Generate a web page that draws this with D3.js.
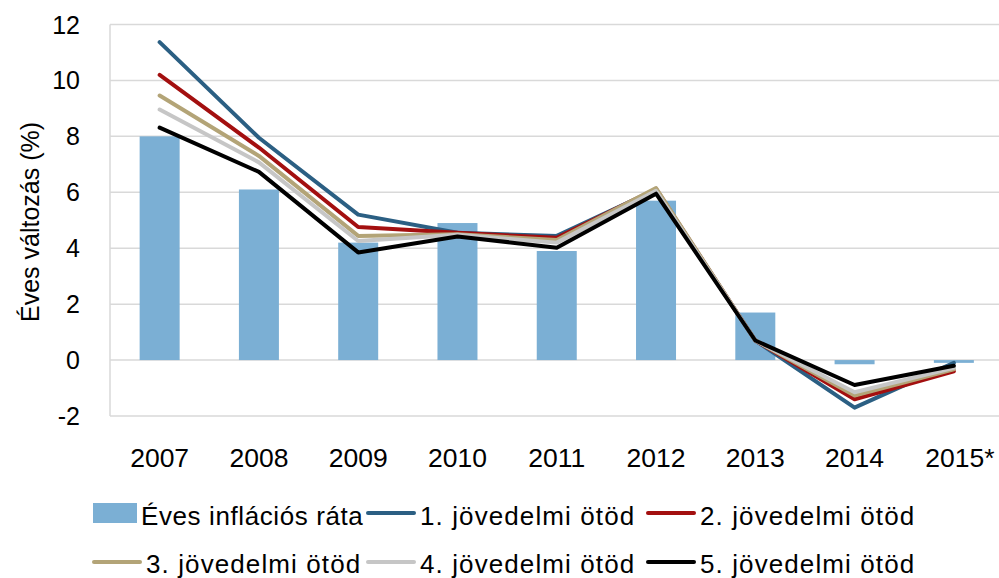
<!DOCTYPE html>
<html><head><meta charset="utf-8">
<script src="https://cdn.jsdelivr.net/npm/d3@7"></script>
<style>body{margin:0;background:#fff}svg{display:block}text{font-family:"Liberation Sans",Arial,sans-serif;fill:#000}</style>
</head><body><svg id="c" width="999" height="578"></svg>
<script>
const years = ["2007","2008","2009","2010","2011","2012","2013","2014","2015*"];
const yTicks = [-2,0,2,4,6,8,10,12];
const inflation = [8.0,6.1,4.2,4.9,3.9,5.7,1.7,-0.15,-0.1];
const q1 = [11.37,7.95,5.2,4.55,4.44,6.1,0.7,-1.7,-0.1];
const q2 = [10.2,7.6,4.76,4.55,4.37,6.12,0.7,-1.4,-0.4];
const q3 = [9.46,7.3,4.44,4.5,4.29,6.15,0.7,-1.27,-0.33];
const q4 = [8.96,7.07,4.26,4.48,4.2,6.05,0.7,-1.15,-0.28];
const q5 = [8.31,6.73,3.85,4.42,4.02,5.95,0.7,-0.89,-0.2];
const seriesNames = ["Éves inflációs ráta","1. jövedelmi ötöd","2. jövedelmi ötöd","3. jövedelmi ötöd","4. jövedelmi ötöd","5. jövedelmi ötöd"];
const lineSeries = [q1,q2,q3,q4,q5];
const colors = ["#7BAFD4","#2B5F83","#A30F0F","#B3A477","#C6C6C6","#000000"];
const yTitle = "Éves változás (%)";

const svg = d3.select("#c");
const x = d3.scaleBand().domain(years).range([110,1003.5]);
const y = d3.scaleLinear().domain([-2,12]).range([416,24.5]);

// gridlines
svg.append("g").selectAll("line").data(yTicks).join("line")
  .attr("x1",110).attr("x2",999).attr("y1",d=>y(d)).attr("y2",d=>y(d))
  .attr("stroke","#D9D9D9").attr("stroke-width",1.5);
svg.append("line").attr("x1",110).attr("x2",110).attr("y1",y(12)).attr("y2",y(-2))
  .attr("stroke","#D9D9D9").attr("stroke-width",1.5);

// y axis labels
svg.append("g").selectAll("text").data(yTicks).join("text")
  .attr("x",80).attr("y",d=>y(d)).attr("dy","0.36em").attr("text-anchor","end")
  .attr("font-size",25).text(d=>d);
// x axis labels
svg.append("g").selectAll("text").data(years).join("text")
  .attr("x",d=>x(d)+x.bandwidth()/2 + (d.endsWith("*")?6:0)).attr("y",467).attr("text-anchor","middle")
  .attr("font-size",26.5).text(d=>d);
// y title
svg.append("text").attr("transform","translate(39,222) rotate(-90)").attr("text-anchor","middle")
  .attr("font-size",25).text(yTitle);

// bars
const bw = 40;
svg.append("g").selectAll("rect").data(inflation).join("rect")
  .attr("x",(d,i)=>x(years[i])+x.bandwidth()/2-bw/2).attr("width",bw)
  .attr("y",d=>y(Math.max(0,d))).attr("height",d=>Math.abs(y(d)-y(0)))
  .attr("fill",colors[0]);

// lines
const line = d3.line().x((d,i)=>x(years[i])+x.bandwidth()/2).y(d=>y(d));
lineSeries.forEach((s,k)=>{
  svg.append("path").attr("d",line(s)).attr("fill","none").attr("stroke",colors[k+1])
    .attr("stroke-width",4).attr("stroke-linejoin","round").attr("stroke-linecap","round");
});

// legend
const legPos = [[93,513],[367,513],[647,513],[93,562],[367,562],[647,562]];
seriesNames.forEach((n,i)=>{
  const [lx,ly] = legPos[i];
  if(i===0){
    svg.append("rect").attr("x",lx).attr("y",ly-10).attr("width",44).attr("height",20).attr("fill",colors[0]);
  } else {
    svg.append("line").attr("x1",lx+1).attr("x2",lx+47).attr("y1",ly).attr("y2",ly)
      .attr("stroke",colors[i]).attr("stroke-width",4).attr("stroke-linecap","round");
  }
  svg.append("text").attr("x",lx+(i===0?48:53)).attr("y",ly+(i<3?12:11)).attr("font-size",26)
    .attr("letter-spacing",i===0?0.6:1.1).text(n);
});
</script></body></html>
